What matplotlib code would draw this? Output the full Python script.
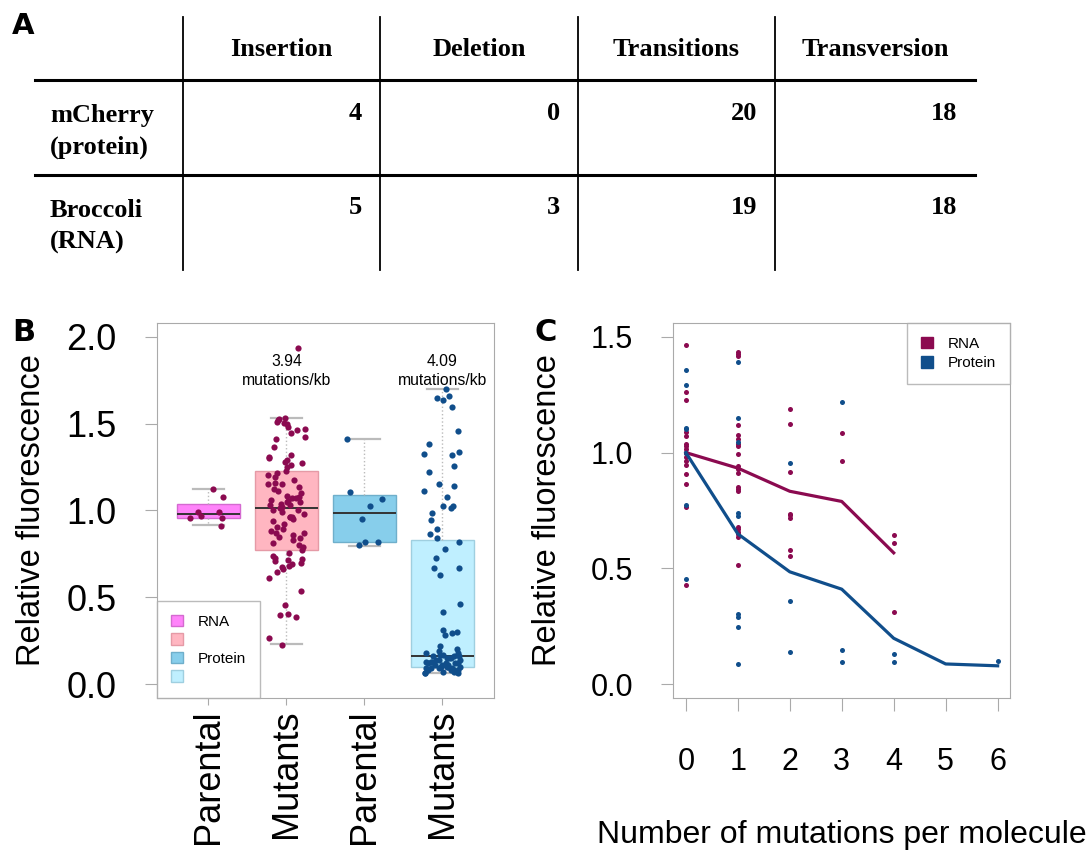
import numpy as np
import matplotlib.pyplot as plt
from matplotlib.patches import Patch

plt.rcParams['font.family'] = ['Liberation Sans', 'DejaVu Sans']

# Panel A: mutation type counts
mut_types = ['Insertion', 'Deletion', 'Transitions', 'Transversion']
constructs = ['mCherry\n(protein)', 'Broccoli\n(RNA)']
mut_counts = [[4, 0, 20, 18],
              [5, 3, 19, 18]]

# Panel B: relative fluorescence of parental vs mutant clones
group_labels = ['Parental', 'Mutants', 'Parental', 'Mutants']
rna_parental = [1.125, 1.079, 0.993, 0.993, 0.968, 0.958, 0.955, 0.912]
rna_mutants = [1.938, 1.535, 1.528, 1.520, 1.510, 1.505, 1.497, 1.478, 1.470,
               1.463, 1.444, 1.425, 1.411, 1.367, 1.319, 1.310, 1.304, 1.290,
               1.281, 1.271, 1.260, 1.252, 1.229, 1.214, 1.204, 1.191, 1.175,
               1.160, 1.152, 1.150, 1.137, 1.121, 1.113, 1.098, 1.085, 1.077,
               1.070, 1.069, 1.060, 1.054, 1.050, 1.046, 1.040, 1.031, 1.030,
               1.021, 1.012, 1.002, 1.000, 0.993, 0.980, 0.964, 0.960, 0.960,
               0.951, 0.937, 0.922, 0.907, 0.893, 0.883, 0.872, 0.870, 0.859,
               0.849, 0.840, 0.830, 0.815, 0.801, 0.788, 0.772, 0.753, 0.740,
               0.724, 0.720, 0.715, 0.707, 0.699, 0.692, 0.682, 0.673, 0.661,
               0.648, 0.609, 0.538, 0.456, 0.404, 0.397, 0.385, 0.265, 0.226]
prot_parental = [1.409, 1.108, 1.067, 1.027, 0.949, 0.820, 0.820, 0.799]
prot_mutants = [1.698, 1.657, 1.648, 1.638, 1.596, 1.455, 1.380, 1.334, 1.328,
                1.319, 1.257, 1.220, 1.151, 1.143, 1.113, 1.078, 1.025, 1.025,
                1.012, 0.983, 0.945, 0.893, 0.864, 0.839, 0.820, 0.778, 0.728,
                0.667, 0.667, 0.628, 0.461, 0.417, 0.311, 0.302, 0.292, 0.283,
                0.22, 0.20, 0.19, 0.18, 0.18, 0.17, 0.17, 0.16, 0.16, 0.16,
                0.15, 0.15, 0.15, 0.14, 0.14, 0.14, 0.13, 0.13, 0.13, 0.12,
                0.12, 0.12, 0.12, 0.11, 0.11, 0.11, 0.11, 0.10, 0.10, 0.10,
                0.10, 0.09, 0.09, 0.09, 0.09, 0.08, 0.08, 0.08, 0.08, 0.07,
                0.07, 0.07, 0.065, 0.065, 0.063]
box_lo = [0.914, 0.230, 0.797, 0.063]
box_q1 = [0.956, 0.772, 0.818, 0.098]
box_med = [0.981, 1.016, 0.987, 0.161]
box_q3 = [1.037, 1.227, 1.087, 0.830]
box_hi = [1.125, 1.535, 1.409, 1.698]
rate_labels = ['3.94\nmutations/kb', '4.09\nmutations/kb']

# Panel C: fluorescence vs number of mutations
n_mut = [0, 1, 2, 3, 4, 5, 6]
rna_mean = [1.0, 0.933, 0.833, 0.789, 0.567]
prot_mean = [1.0, 0.649, 0.485, 0.410, 0.198, 0.087, 0.079]
rna_by_n = [
    [1.463, 1.260, 1.229, 1.089, 1.070, 1.039, 1.029, 1.017, 1.000, 0.981,
     0.964, 0.945, 0.909, 0.863, 0.765, 0.427],
    [1.434, 1.424, 1.416, 1.119, 1.075, 1.060, 1.038, 1.028, 0.992, 0.941,
     0.931, 0.912, 0.852, 0.844, 0.834, 0.679, 0.669, 0.658, 0.648, 0.636,
     0.516],
    [1.190, 1.125, 0.916, 0.736, 0.729, 0.719, 0.581, 0.553],
    [1.084, 0.962],
    [0.643, 0.609, 0.313],
    [],
    [],
]
prot_by_n = [
    [1.357, 1.290, 1.106, 1.101, 1.000, 0.773, 0.456],
    [1.390, 1.148, 1.046, 0.737, 0.728, 0.302, 0.290, 0.247, 0.085],
    [0.955, 0.360, 0.140],
    [1.217, 0.147, 0.094],
    [0.132, 0.095],
    [],
    [0.101],
]

rna_col = '#8B0A50'
prot_col = '#104E8B'
box_fill = ['#FF83FA', '#FFB6C1', '#87CEEB', '#BFEFFF']
box_edge = ['#D46AD0', '#E59AA6', '#6FAFCB', '#9FCFE0']
frame_col = '#AAAAAA'

fig = plt.figure(figsize=(10.88, 8.51), dpi=100)

# ---- A: table, drawn in pixel coordinates ----
axA = fig.add_axes([0, 0, 1, 1])
axA.set_xlim(0, 1088)
axA.set_ylim(851, 0)
axA.axis('off')
col_edges = [183, 380, 578, 775, 975]
row_edges = [80, 175, 270]
tfont = dict(family='Liberation Serif', fontweight='bold', fontsize=19)
for xe in col_edges[:-1]:
    axA.plot([xe, xe], [17, 270], color='black', lw=1.3)
for ye in row_edges[:-1]:
    axA.plot([35, col_edges[-1]], [ye, ye], color='black', lw=2.2)
for j, name in enumerate(mut_types):
    axA.text((col_edges[j] + col_edges[j + 1]) / 2, 50, name,
             ha='center', va='center', **tfont)
for i, name in enumerate(constructs):
    y0 = row_edges[i] + 33
    axA.text(50, y0 - 9, name, ha='left', va='top', linespacing=1.5, **tfont)
    for j, val in enumerate(mut_counts[i]):
        axA.text(col_edges[j + 1] - 18, y0, str(val), ha='right', va='center', **tfont)
axA.text(12, 12, 'A', ha='left', va='top', fontsize=21, fontweight='bold',
         family='DejaVu Sans')

# ---- B: box plots with jittered points ----
axB = fig.add_axes([0.1443, 0.1798, 0.3097, 0.4407])
pos = [1, 2, 3, 4]
stats = [dict(whislo=box_lo[k], q1=box_q1[k], med=box_med[k], q3=box_q3[k],
              whishi=box_hi[k], fliers=[]) for k in range(4)]
bp = axB.bxp(stats, positions=pos, widths=0.8, patch_artist=True,
             showfliers=False, capwidths=0.4,
             medianprops=dict(color='#333333', lw=1.4),
             whiskerprops=dict(color='#BBBBBB', lw=1.0, ls=':'),
             capprops=dict(color='#BBBBBB', lw=1.6))
for patch, fc, ec in zip(bp['boxes'], box_fill, box_edge):
    patch.set_facecolor(fc)
    patch.set_edgecolor(ec)
    patch.set_linewidth(1.0)

rng = np.random.default_rng(7)
for k, (vals, col) in enumerate(zip([rna_parental, rna_mutants, prot_parental, prot_mutants],
                                    [rna_col, rna_col, prot_col, prot_col])):
    jit = rng.uniform(-0.24, 0.24, len(vals))
    axB.scatter(pos[k] + jit, vals, s=20, color=col, lw=0, zorder=3)

for k, lab in zip([2, 4], rate_labels):
    axB.text(k, 1.90, lab, ha='center', va='top', fontsize=11.3, linespacing=1.3)

axB.set_xlim(0.34, 4.66)
axB.set_ylim(-0.08, 2.08)
axB.set_yticks([0, 0.5, 1.0, 1.5, 2.0])
axB.set_yticklabels(['0.0', '0.5', '1.0', '1.5', '2.0'])
axB.set_xticks(pos)
axB.set_xticklabels(group_labels, rotation=90, va='top', fontsize=26)
axB.tick_params(axis='y', labelsize=26, length=9, pad=20, color=frame_col)
axB.tick_params(axis='x', length=5, pad=3, color=frame_col)
axB.set_ylabel('Relative fluorescence', fontsize=23.5)
axB.yaxis.set_label_coords(-0.326, 0.5)
for sp in axB.spines.values():
    sp.set_color(frame_col)

legB = axB.legend([Patch(facecolor=fc, edgecolor=ec) for fc, ec in zip(box_fill, box_edge)],
                  ['RNA', '', 'Protein', ''], loc='lower left', fontsize=11,
                  frameon=True, fancybox=False, edgecolor=frame_col, borderaxespad=0,
                  handlelength=0.8, handleheight=0.8, handletextpad=1.0,
                  labelspacing=0.28, borderpad=0.9)
legB.get_frame().set_linewidth(1.0)

# ---- C: fluorescence vs number of mutations ----
axC = fig.add_axes([0.6189, 0.1798, 0.3095, 0.4407])
for n in n_mut:
    axC.scatter([n] * len(rna_by_n[n]), rna_by_n[n], s=13, color=rna_col, lw=0, zorder=2)
for n in n_mut:
    axC.scatter([n] * len(prot_by_n[n]), prot_by_n[n], s=13, color=prot_col, lw=0, zorder=2)
axC.plot(n_mut[:len(rna_mean)], rna_mean, color=rna_col, lw=2.3, zorder=3)
axC.plot(n_mut, prot_mean, color=prot_col, lw=2.3, zorder=3)
axC.set_xlim(-0.24, 6.24)
axC.set_ylim(-0.06, 1.56)
axC.set_xticks(n_mut)
axC.set_yticks([0, 0.5, 1.0, 1.5])
axC.set_yticklabels(['0.0', '0.5', '1.0', '1.5'])
axC.tick_params(axis='both', labelsize=22, length=9, color=frame_col)
axC.tick_params(axis='y', pad=20)
axC.tick_params(axis='x', pad=26)
axC.set_xlabel('Number of mutations per molecule', fontsize=23, labelpad=31)
axC.set_ylabel('Relative fluorescence', fontsize=23.5)
axC.yaxis.set_label_coords(-0.328, 0.5)
for sp in axC.spines.values():
    sp.set_color(frame_col)
legC = axC.legend([Patch(color=rna_col), Patch(color=prot_col)], ['RNA', 'Protein'],
                  loc='upper right', fontsize=11, frameon=True, fancybox=False,
                  edgecolor=frame_col, borderaxespad=0, handlelength=0.8,
                  handleheight=0.8, handletextpad=1.0, labelspacing=0.35, borderpad=0.9)
legC.get_frame().set_linewidth(1.0)

fig.text(12, 851 - 318, 'B', transform=None, ha='left', va='top', fontsize=22,
         fontweight='bold', family='DejaVu Sans')
fig.text(535, 851 - 318, 'C', transform=None, ha='left', va='top', fontsize=22,
         fontweight='bold', family='DejaVu Sans')

fig.savefig('out.png', dpi=100)
